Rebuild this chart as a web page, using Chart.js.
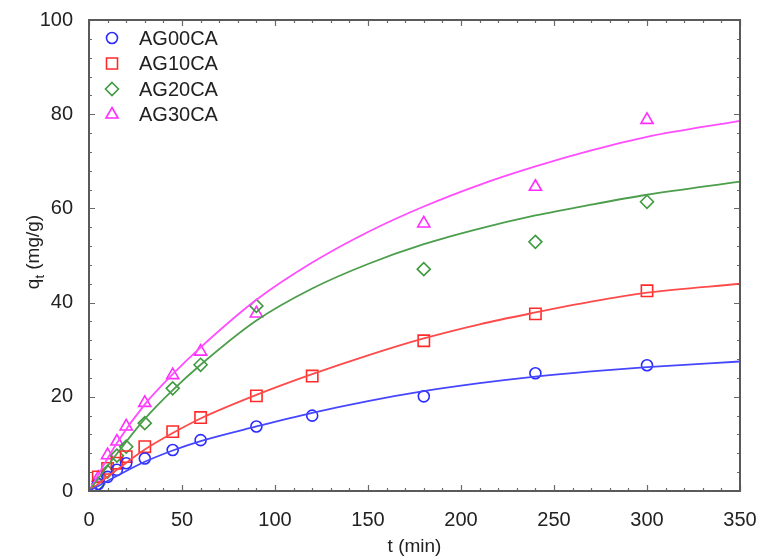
<!DOCTYPE html>
<html>
<head>
<meta charset="utf-8">
<script src="https://cdn.jsdelivr.net/npm/chart.js@4.4.1/dist/chart.umd.min.js"></script>
<style>
  html, body { margin: 0; padding: 0; background: #fff; }
  canvas { display: block; }
</style>
</head>
<body>
<canvas id="kinetics" width="761" height="558"></canvas>
<script>
// dados experimentais (t em min, qt em mg/g)
const seriesNames = ['AG00CA', 'AG10CA', 'AG20CA', 'AG30CA'];
const tAll = [5, 10, 15, 20, 30, 45, 60, 90, 120, 180, 240, 300];
const tNo120 = [5, 10, 15, 20, 30, 45, 60, 90, 180, 240, 300];

const qAG00 = [1.5, 3.0, 4.5, 5.9, 6.9, 8.7, 10.8, 13.7, 16.0, 20.1, 25.0, 26.7];
const qAG10 = [3.0, 4.8, 5.9, 7.3, 9.4, 12.6, 15.6, 20.2, 24.4, 31.9, 37.6, 42.5];
const qAG20 = [1.5, 4.1, 7.5, 9.4, 14.4, 21.8, 26.8, 39.3, 47.1, 52.9, 61.4];
const qAG30 = [2.8, 7.6, 10.5, 13.7, 18.7, 24.6, 29.6, 37.7, 56.8, 64.6, 78.8];

// curvas ajustadas
const tFit = [0, 15, 30, 45, 60, 90, 120, 150, 180, 210, 240, 270, 300, 350];
const fitAG00 = [0, 3.2, 6.2, 8.6, 10.6, 13.7, 16.6, 19.1, 21.2, 22.9, 24.3, 25.4, 26.3, 27.5];
const fitAG10 = [0, 4.5, 8.8, 12.3, 15.4, 20.4, 24.8, 28.8, 32.4, 35.4, 37.9, 40.2, 42.1, 44.0];
const fitAG20 = [0, 7.9, 15.3, 21.4, 26.8, 36.2, 43.0, 48.2, 52.4, 55.7, 58.5, 60.8, 62.9, 65.7];
const fitAG30 = [0, 10.2, 18.4, 24.8, 30.5, 40.6, 48.5, 55.0, 60.4, 65.0, 68.9, 72.3, 75.2, 78.6];

const xTicks = [0, 50, 100, 150, 200, 250, 300, 350];
const yTicks = [0, 20, 40, 60, 80, 100];

const pointColors = ['#2b2bff', '#ff2b2b', '#3f9a3f', '#ff2bff'];
const lineColors = ['#4646ff', '#ff4a4a', '#4c9e4c', '#ff4dff'];
const styles = ['circle', 'rect', 'rectRot', 'triangle'];
const radii = [5.5, 8, 6.5, 7];
const FONT = "'Liberation Sans', Arial, sans-serif";

const pts = (xs, ys) => xs.map((x, i) => ({ x: x, y: ys[i] }));

const markerSets = [
  pts(tAll, qAG00), pts(tAll, qAG10), pts(tNo120, qAG20), pts(tNo120, qAG30)
];
const fitSets = [fitAG00, fitAG10, fitAG20, fitAG30].map(f => pts(tFit, f));

const datasets = [];
fitSets.forEach((d, i) => {
  datasets.push({
    label: seriesNames[i] + ' fit',
    data: d,
    showLine: true,
    borderColor: lineColors[i],
    borderWidth: 1.8,
    pointRadius: 0,
    cubicInterpolationMode: 'monotone',
    fill: false
  });
});
markerSets.forEach((d, i) => {
  datasets.push({
    label: seriesNames[i],
    data: d,
    showLine: false,
    pointStyle: styles[i],
    pointRadius: radii[i],
    pointBorderWidth: 1.6,
    pointBorderColor: pointColors[i],
    pointBackgroundColor: 'rgba(0,0,0,0)'
  });
});

// moldura, ticks internos, legenda e título do eixo y
const decorations = {
  id: 'decorations',
  afterDatasetsDraw(chart) {
    const { ctx, chartArea: a, scales: { x, y } } = chart;
    ctx.save();
    ctx.strokeStyle = '#6a6a6a';
    ctx.lineWidth = 1.2;
    ctx.beginPath();
    for (let v = 0; v <= 350; v += 10) {
      const px = Math.round(x.getPixelForValue(v)) + 0.5;
      const len = v % 50 === 0 ? 6 : 3;
      ctx.moveTo(px, a.bottom); ctx.lineTo(px, a.bottom - len);
      ctx.moveTo(px, a.top); ctx.lineTo(px, a.top + len);
    }
    for (let v = 0; v <= 100; v += 4) {
      const py = Math.round(y.getPixelForValue(v)) + 0.5;
      const len = v % 20 === 0 ? 6 : 3;
      ctx.moveTo(a.left, py); ctx.lineTo(a.left + len, py);
      ctx.moveTo(a.right, py); ctx.lineTo(a.right - len, py);
    }
    ctx.stroke();

    ctx.strokeStyle = '#5a5a5a';
    ctx.lineWidth = 2;
    ctx.strokeRect(a.left, a.top, a.right - a.left, a.bottom - a.top);

    // legenda
    ctx.font = '20px ' + FONT;
    ctx.textBaseline = 'middle';
    ctx.fillStyle = '#222';
    seriesNames.forEach((name, i) => {
      const cy = 38 + i * 25.5;
      const cx = 112;
      ctx.strokeStyle = pointColors[i];
      ctx.lineWidth = 1.6;
      ctx.beginPath();
      if (i === 0) {
        ctx.arc(cx, cy, 5.5, 0, Math.PI * 2);
      } else if (i === 1) {
        ctx.rect(cx - 5.5, cy - 5.5, 11, 11);
      } else if (i === 2) {
        ctx.moveTo(cx, cy - 6.5); ctx.lineTo(cx + 6.5, cy);
        ctx.lineTo(cx, cy + 6.5); ctx.lineTo(cx - 6.5, cy); ctx.closePath();
      } else {
        ctx.moveTo(cx, cy - 7); ctx.lineTo(cx + 6, cy + 3.5);
        ctx.lineTo(cx - 6, cy + 3.5); ctx.closePath();
      }
      ctx.stroke();
      ctx.fillText(name, 139, cy + 1);
    });

    // título do eixo y com subscrito
    ctx.translate(33, 252);
    ctx.rotate(-Math.PI / 2);
    ctx.fillStyle = '#222';
    ctx.textBaseline = 'alphabetic';
    const parts = [['q', 19, 0], ['t', 13, 5], [' (mg/g)', 19, 0]];
    let total = 0;
    parts.forEach(p => { ctx.font = p[1] + 'px ' + FONT; total += ctx.measureText(p[0]).width; });
    let xPos = -total / 2;
    parts.forEach(p => {
      ctx.font = p[1] + 'px ' + FONT;
      ctx.fillText(p[0], xPos, 6 + p[2]);
      xPos += ctx.measureText(p[0]).width;
    });
    ctx.restore();
  }
};

new Chart(document.getElementById('kinetics'), {
  type: 'scatter',
  data: { datasets: datasets },
  options: {
    responsive: false,
    animation: false,
    layout: { padding: { top: 20, right: 21, left: 0, bottom: 0 } },
    plugins: { legend: { display: false }, tooltip: { enabled: false } },
    scales: {
      x: {
        type: 'linear',
        min: 0, max: 350,
        afterBuildTicks: s => { s.ticks = xTicks.map(v => ({ value: v })); },
        afterFit: s => { s.height = 67; s.paddingLeft = 0; s.paddingRight = 0; },
        grid: { display: false },
        border: { display: false },
        ticks: { color: '#222', font: { family: FONT, size: 20 }, padding: 9, maxRotation: 0 },
        title: { display: true, text: 't (min)', color: '#222', font: { family: FONT, size: 19 }, padding: { top: 4, bottom: 0 } }
      },
      y: {
        min: 0, max: 100,
        afterBuildTicks: s => { s.ticks = yTicks.map(v => ({ value: v })); },
        afterFit: s => { s.width = 89; s.paddingTop = 0; s.paddingBottom = 0; },
        grid: { display: false },
        border: { display: false },
        ticks: { color: '#222', font: { family: FONT, size: 20 }, padding: 8 }
      }
    }
  },
  plugins: [decorations]
});
</script>
</body>
</html>
